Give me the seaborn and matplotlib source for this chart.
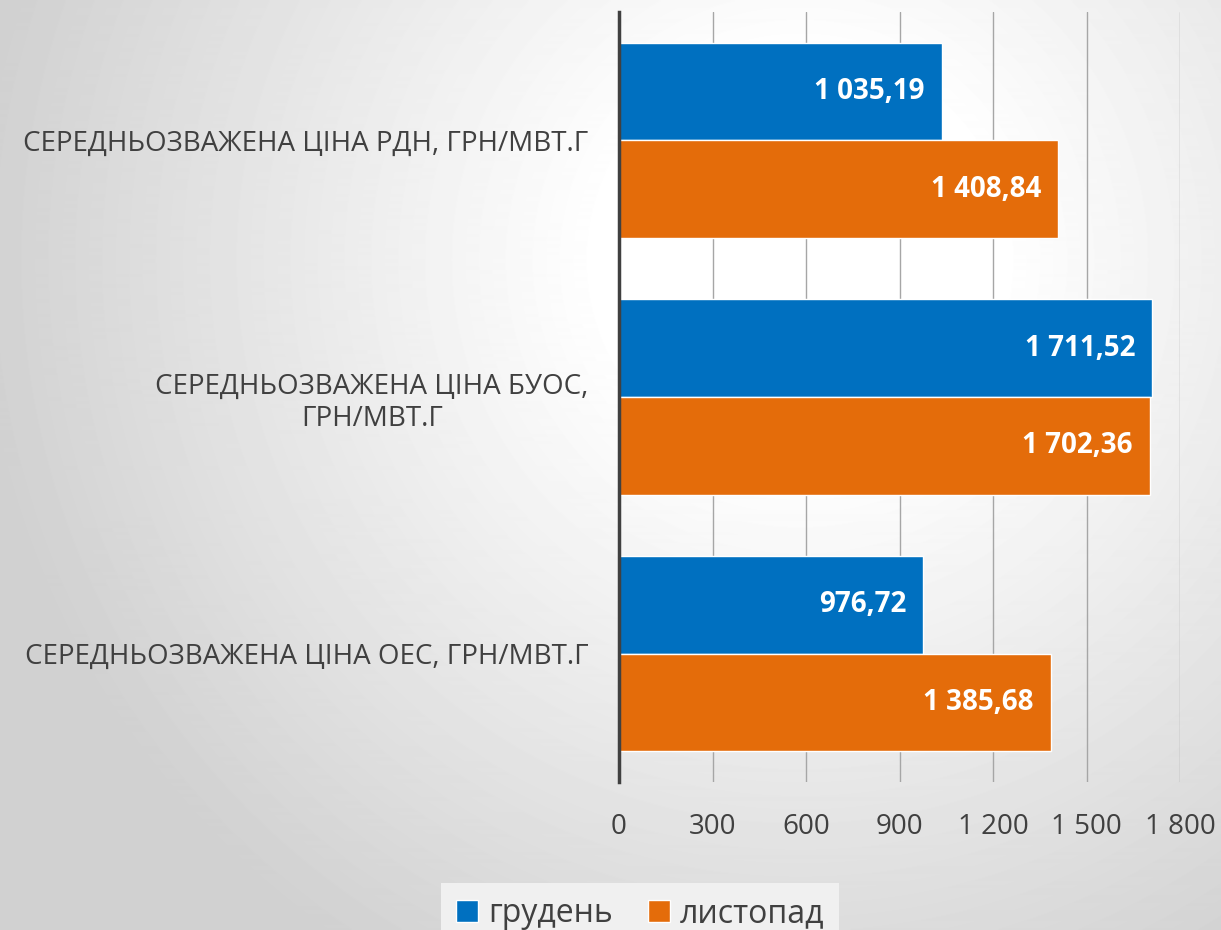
import numpy as np
import pandas as pd
import matplotlib
matplotlib.use("Agg")
import matplotlib.pyplot as plt
import seaborn as sns
from matplotlib.ticker import FuncFormatter
from matplotlib.patches import Patch

# Data
categories = [
    "СЕРЕДНЬОЗВАЖЕНА ЦІНА РДН, ГРН/МВТ.Г",
    "СЕРЕДНЬОЗВАЖЕНА ЦІНА БУОС,\nГРН/МВТ.Г",
    "СЕРЕДНЬОЗВАЖЕНА ЦІНА ОЕС, ГРН/МВТ.Г",
]
months = ["грудень", "листопад"]
december = [1035.19, 1711.52, 976.72]
november = [1408.84, 1702.36, 1385.68]
x_ticks = [0, 300, 600, 900, 1200, 1500, 1800]

colors = {"грудень": "#0070C0", "листопад": "#E46C0A"}


def fmt_num(v, decimals=0):
    """ format like 1 035,19 """
    s = f"{v:,.{decimals}f}".replace(",", " ").replace(".", ",")
    return s


df = pd.DataFrame({
    "category": categories * 2,
    "month": [months[0]] * 3 + [months[1]] * 3,
    "value": december + november,
})

sns.set_style("white")
plt.rcParams['font.family'] = ['Open Sans', 'DejaVu Sans']

fig = plt.figure(figsize=(12.21, 9.30), dpi=100)

# radial grey background
bg = fig.add_axes([0, 0, 1, 1], zorder=-1)
h, w = 930, 1221
yy, xx = np.mgrid[0:h, 0:w]
dist = np.sqrt((xx - 800) ** 2 + (yy - 260) ** 2)
shade = 1 - 0.18 * np.clip((dist - 200) / 620, 0, 1)
bg.imshow(shade, cmap="gray", vmin=0, vmax=1, aspect="auto", extent=(0, w, h, 0))
bg.axis("off")

ax = fig.add_axes([619 / 1221, 1 - 782 / 930, 561 / 1221, 770 / 930])
ax.set_facecolor("none")

sns.barplot(data=df, y="category", x="value", hue="month", hue_order=months,
            order=categories, palette=colors, orient="h", width=0.76,
            saturation=1, ax=ax, legend=False)

# labels inside the bar ends
for cont in ax.containers:
    for bar in cont:
        val = bar.get_width()
        ax.annotate(fmt_num(val, 2), (val, bar.get_y() + bar.get_height() / 2),
                    xytext=(-17, 0), textcoords="offset pixels",
                    ha="right", va="center", color="white",
                    fontsize=20, fontweight="bold")

ax.set_xlim(0, 1800)
ax.set_xticks(x_ticks)
ax.xaxis.set_major_formatter(FuncFormatter(lambda v, p: fmt_num(v)))
ax.grid(axis="x", color="#a6a6a6", lw=1)
ax.set_axisbelow(True)
ax.set_xlabel("")
ax.set_ylabel("")
ax.tick_params(axis="x", length=0, pad=22, labelsize=20, labelcolor="#404040")
ax.tick_params(axis="y", length=0, pad=22, labelsize=20, labelcolor="#404040")
for lbl in ax.get_yticklabels():
    lbl.set_multialignment("center")

for side in ["top", "right", "bottom"]:
    ax.spines[side].set_visible(False)
ax.spines["left"].set_color("#404040")
ax.spines["left"].set_linewidth(2.5)

# legend in a light box at the bottom (cut by the image edge)
handles = [Patch(facecolor=colors[m], label=m) for m in months]
leg = fig.legend(handles=handles, loc="upper center", bbox_to_anchor=(640 / 1221, 1 - 883 / 930),
                 ncol=2, fontsize=23, frameon=True, fancybox=False,
                 handlelength=0.7, handleheight=0.7, handletextpad=0.3,
                 columnspacing=1.1, borderpad=0.45, borderaxespad=0)
leg.get_frame().set_facecolor("#f0f0f0")
leg.get_frame().set_edgecolor("none")
leg.get_frame().set_alpha(1)
for t in leg.get_texts():
    t.set_color("#404040")

fig.savefig("out.png", dpi=100)
